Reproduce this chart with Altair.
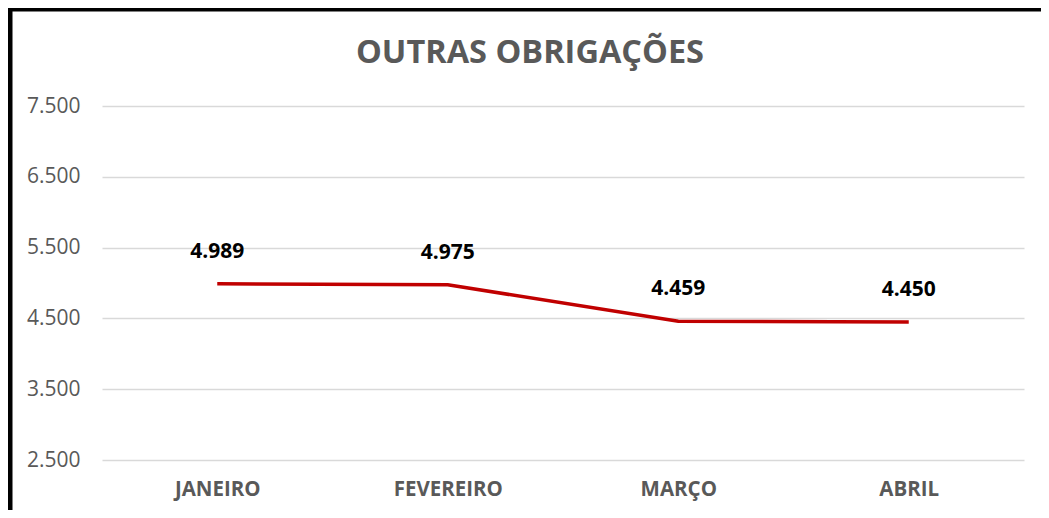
import altair as alt
import pandas as pd

chart_title = "OUTRAS OBRIGAÇÕES"
months = ["JANEIRO", "FEVEREIRO", "MARÇO", "ABRIL"]
values = [4989, 4975, 4459, 4450]
labels = ["4.989", "4.975", "4.459", "4.450"]
y_ticks = [2500, 3500, 4500, 5500, 6500, 7500]

df = pd.DataFrame({"mes": months, "valor": values, "rotulo": labels})

W, H = 922, 354
GREY = "#595959"
FONT = "Open Sans"

x = alt.X("mes:N", sort=months, title=None,
          scale=alt.Scale(paddingInner=0, paddingOuter=0.5),
          axis=alt.Axis(labelAngle=0, labelFont=FONT, labelFontSize=20.5,
                        labelFontWeight="bold", labelColor=GREY, ticks=False,
                        domain=False, labelPadding=19, grid=False))
y = alt.Y("valor:Q", title=None,
          scale=alt.Scale(domain=[2500, 7500], nice=False, zero=False),
          axis=alt.Axis(values=y_ticks, labelExpr="replace(format(datum.value, ',d'), ',', '.')",
                        labelFont=FONT, labelFontSize=21, labelColor=GREY,
                        ticks=False, domain=False, labelPadding=22,
                        gridColor="#D9D9D9", gridWidth=1.5))

line = alt.Chart(df).mark_line(color="#C00000", strokeWidth=3.5).encode(x=x, y=y)
text = alt.Chart(df).mark_text(font=FONT, fontSize=21, fontWeight="bold",
                                color="#000000", dy=-32, baseline="middle").encode(
    x=alt.X("mes:N", sort=months), y="valor:Q", text="rotulo:N")

title_df = pd.DataFrame({"t": [chart_title]})
title = alt.Chart(title_df).mark_text(font=FONT, fontSize=32.5, fontWeight="bold",
                                      color=GREY, align="center",
                                      baseline="alphabetic").encode(
    x=alt.value(W / 2 - 33), y=alt.value(-43), text="t:N")

border_df = pd.DataFrame({"k": [0]})
left_border = alt.Chart(border_df).mark_rule(color="#000000", strokeWidth=5).encode(
    x=alt.value(-92), y=alt.value(-100), y2=alt.value(H + 60))
top_border = alt.Chart(border_df).mark_rule(color="#000000", strokeWidth=5).encode(
    y=alt.value(-97), x=alt.value(-100), x2=alt.value(W + 30))

chart = alt.layer(line, text, title, left_border, top_border).properties(
    width=W, height=H,
    autosize=alt.AutoSizeParams(type="none"),
    padding={"left": 94, "top": 98, "right": 17, "bottom": 50},
).configure_view(stroke=None)

chart.save("out.html", embed_options={"renderer": "svg", "actions": False})
